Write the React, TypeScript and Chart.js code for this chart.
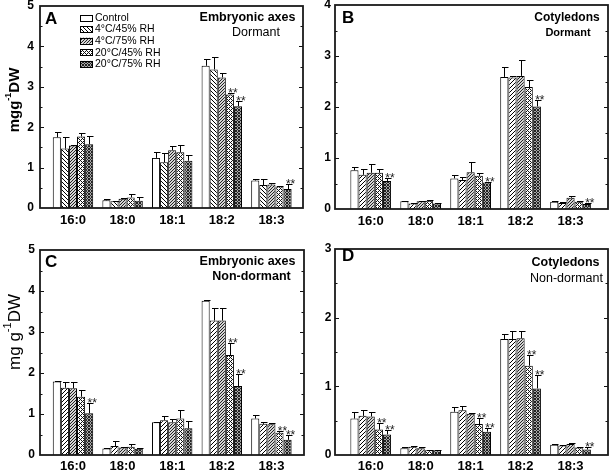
import React, { useEffect, useRef } from 'react';
import { Chart, registerables } from 'chart.js';

Chart.register(...registerables);

// ---------- data ----------
const CATEGORIES = ['16:0', '18:0', '18:1', '18:2', '18:3'];
const SERIES = ['Control', '4°C/45% RH', '4°C/75% RH', '20°C/45% RH', '20°C/75% RH'];

// Panel A: Embryonic axes, dormant (rows = series, cols = categories)
const valuesA = [
  [1.75, 0.19, 1.24, 3.52, 0.68],
  [1.47, 0.17, 1.13, 3.43, 0.57],
  [1.55, 0.23, 1.43, 3.23, 0.58],
  [1.77, 0.26, 1.38, 2.81, 0.53],
  [1.58, 0.18, 1.17, 2.52, 0.47],
];
const errorsA = [
  [0.13, 0.03, 0.14, 0.17, 0.05],
  [0.29, 0.01, 0.23, 0.30, 0.15],
  [0.01, 0.01, 0.10, 0.11, 0.04],
  [0.09, 0.09, 0.19, 0.04, 0.02],
  [0.19, 0.09, 0.15, 0.12, 0.12],
];
const starsA = [[3, 3], [4, 3], [4, 4]];

// Panel B: Cotyledons, dormant
const valuesB = [
  [0.76, 0.15, 0.60, 2.59, 0.14],
  [0.67, 0.11, 0.57, 2.58, 0.12],
  [0.71, 0.15, 0.72, 2.61, 0.22],
  [0.71, 0.16, 0.65, 2.39, 0.14],
  [0.55, 0.11, 0.52, 2.01, 0.10],
];
const errorsB = [
  [0.06, 0.01, 0.06, 0.20, 0.01],
  [0.11, 0.01, 0.05, 0.03, 0.01],
  [0.17, 0.01, 0.20, 0.31, 0.04],
  [0.07, 0.01, 0.05, 0.13, 0.01],
  [0.05, 0.01, 0.01, 0.13, 0.01],
];
const starsB = [[4, 0], [4, 2], [4, 3], [4, 4]];

// Panel C: Embryonic axes, non-dormant
const valuesC = [
  [1.79, 0.16, 0.80, 3.76, 0.89],
  [1.64, 0.22, 0.85, 3.28, 0.76],
  [1.63, 0.18, 0.80, 3.28, 0.75],
  [1.42, 0.20, 0.89, 2.44, 0.54],
  [1.02, 0.15, 0.65, 1.68, 0.37],
];
const errorsC = [
  [0.02, 0.01, 0.01, 0.02, 0.09],
  [0.13, 0.11, 0.10, 0.31, 0.04],
  [0.14, 0.02, 0.09, 0.31, 0.02],
  [0.17, 0.07, 0.21, 0.30, 0.05],
  [0.24, 0.02, 0.19, 0.30, 0.12],
];
const starsC = [[4, 0], [3, 3], [4, 3], [3, 4], [4, 4]];

// Panel D: Cotyledons, non-dormant
const valuesD = [
  [0.53, 0.10, 0.63, 1.69, 0.15],
  [0.57, 0.12, 0.65, 1.69, 0.14],
  [0.56, 0.10, 0.60, 1.70, 0.16],
  [0.37, 0.07, 0.45, 1.30, 0.11],
  [0.30, 0.07, 0.34, 0.97, 0.08],
];
const errorsD = [
  [0.10, 0.01, 0.07, 0.07, 0.01],
  [0.09, 0.01, 0.07, 0.11, 0.01],
  [0.06, 0.01, 0.01, 0.10, 0.01],
  [0.09, 0.01, 0.09, 0.15, 0.01],
  [0.07, 0.01, 0.06, 0.20, 0.03],
];
const starsD = [[3, 0], [4, 0], [3, 2], [4, 2], [3, 3], [4, 3], [4, 4]];

const Y_MAX_A = 5;
const Y_MAX_B = 4;
const Y_MAX_C = 5;
const Y_MAX_D = 3;

// ---------- layout / style ----------
const FONT = '"Liberation Sans", Arial, Helvetica, sans-serif';

type TextItem = { t: string; x: number; y: number; size: number; bold: boolean; align: CanvasTextAlign };

type Panel = {
  ox: number; oy: number; w: number; h: number;
  left: number; right: number; top: number; bottom: number;
  xMin: number; xMax: number; yMax: number;
  values: number[][]; errors: number[][]; stars: number[][];
  backHatch: boolean; legend: boolean;
  yTickPad: number; xTickPad: number;
  yTitle: { main1: string; main2: string; bold: boolean; size: number; x: number; y: number } | null;
  texts: TextItem[];
};

const PANELS: Panel[] = [
  {
    ox: 0, oy: 0, w: 305, h: 235, left: 40, right: 303, top: 6, bottom: 208,
    xMin: -0.665, xMax: 4.637, yMax: Y_MAX_A,
    values: valuesA, errors: errorsA, stars: starsA, backHatch: true, legend: true,
    yTickPad: 6, xTickPad: 5,
    yTitle: { main1: 'mgg', main2: 'DW', bold: true, size: 15, x: 15, y: 100 },
    texts: [
      { t: 'A', x: 45, y: 19, size: 17, bold: true, align: 'left' },
      { t: 'Embryonic axes', x: 247.5, y: 18, size: 12.5, bold: true, align: 'center' },
      { t: 'Dormant', x: 256, y: 33, size: 12.5, bold: false, align: 'center' },
    ],
  },
  {
    ox: 305, oy: 0, w: 304, h: 235, left: 30, right: 303, top: 5, bottom: 209,
    xMin: -0.715, xMax: 4.75, yMax: Y_MAX_B,
    values: valuesB, errors: errorsB, stars: starsB, backHatch: false, legend: false,
    yTickPad: 4, xTickPad: 5,
    yTitle: null,
    texts: [
      { t: 'B', x: 37, y: 18.5, size: 17, bold: true, align: 'left' },
      { t: 'Cotyledons', x: 262, y: 18, size: 12, bold: true, align: 'center' },
      { t: 'Dormant', x: 263, y: 33, size: 11, bold: true, align: 'center' },
    ],
  },
  {
    ox: 0, oy: 235, w: 305, h: 236, left: 40, right: 304, top: 15, bottom: 220,
    xMin: -0.665, xMax: 4.657, yMax: Y_MAX_C,
    values: valuesC, errors: errorsC, stars: starsC, backHatch: false, legend: false,
    yTickPad: 5, xTickPad: 4,
    yTitle: { main1: 'mg g', main2: 'DW', bold: false, size: 17, x: 15, y: 97 },
    texts: [
      { t: 'C', x: 45, y: 27, size: 17, bold: true, align: 'left' },
      { t: 'Embryonic axes', x: 247.5, y: 26.5, size: 12.5, bold: true, align: 'center' },
      { t: 'Non-dormant', x: 251.5, y: 41.5, size: 12.5, bold: true, align: 'center' },
    ],
  },
  {
    ox: 305, oy: 235, w: 304, h: 236, left: 30, right: 303, top: 14, bottom: 220,
    xMin: -0.715, xMax: 4.75, yMax: Y_MAX_D,
    values: valuesD, errors: errorsD, stars: starsD, backHatch: false, legend: false,
    yTickPad: 3.5, xTickPad: 4,
    yTitle: null,
    texts: [
      { t: 'D', x: 37, y: 21.5, size: 17, bold: true, align: 'left' },
      { t: 'Cotyledons', x: 260.5, y: 28, size: 12.5, bold: true, align: 'center' },
      { t: 'Non-dormant', x: 261.5, y: 43.5, size: 12.5, bold: false, align: 'center' },
    ],
  },
];

function makePattern(size: number, bg: string, fg: string, on: (x: number, y: number) => boolean): CanvasPattern | string {
  const c = document.createElement('canvas');
  c.width = size; c.height = size;
  const g = c.getContext('2d');
  if (!g) return bg;
  g.fillStyle = bg; g.fillRect(0, 0, size, size);
  g.fillStyle = fg;
  for (let y = 0; y < size; y++) for (let x = 0; x < size; x++) if (on(x, y)) g.fillRect(x, y, 1, 1);
  const p = g.createPattern(c, 'repeat');
  return p || bg;
}

function makeFills(backHatch: boolean) {
  const hatch = backHatch
    ? makePattern(4, '#ffffff', '#000000', (x, y) => (x - y + 8) % 4 === 0)
    : makePattern(4, '#ffffff', '#000000', (x, y) => (x + y) % 4 === 0);
  const dense = makePattern(3, '#d4d4d4', '#222222', (x, y) => (x + y) % 3 === 0);
  const cross = makePattern(4, '#ffffff', '#111111', (x, y) => (x + y) % 4 === 0 || (x - y + 8) % 4 === 0);
  const dark = makePattern(3, '#a8a8a8', '#222222', (x, y) => (x + y) % 3 === 0 || (x - y + 6) % 3 === 0);
  return ['#ffffff', hatch, dense, cross, dark];
}

function font(size: number, bold: boolean) {
  return `${bold ? 'bold ' : ''}${size}px ${FONT}`;
}

function buildChart(canvas: HTMLCanvasElement, p: Panel) {
  const fills = makeFills(p.backHatch);
  const legendFills = fills;

  const decor = {
    id: 'decor' + p.ox + p.oy,
    afterDatasetsDraw(chart: any) {
      const ctx = chart.ctx as CanvasRenderingContext2D;
      const ys = chart.scales.y;
      ctx.save();
      ctx.strokeStyle = '#000';
      ctx.lineWidth = 1;
      const barX: number[][] = [];
      chart.data.datasets.forEach((_: any, s: number) => {
        const meta = chart.getDatasetMeta(s);
        barX[s] = [];
        meta.data.forEach((bar: any, i: number) => {
          barX[s][i] = bar.x;
          const v = p.values[s][i];
          const e = p.errors[s][i];
          if (!(e > 0)) return;
          const yTop = Math.round(ys.getPixelForValue(v + e)) + 0.5;
          const yBar = ys.getPixelForValue(v);
          const x = Math.round(bar.x) + 0.5;
          ctx.beginPath();
          ctx.moveTo(x, yBar);
          ctx.lineTo(x, yTop);
          ctx.moveTo(x - 2.5, yTop);
          ctx.lineTo(x + 4, yTop);
          ctx.stroke();
        });
      });
      // significance stars
      ctx.fillStyle = '#222';
      ctx.font = font(12, false);
      ctx.textAlign = 'center';
      ctx.textBaseline = 'alphabetic';
      p.stars.forEach(([s, i]) => {
        const v = p.values[s][i] + p.errors[s][i];
        const y = ys.getPixelForValue(v);
        ctx.fillText('**', barX[s][i] + 3, y + 4);
      });
      ctx.restore();
    },
    afterDraw(chart: any) {
      const ctx = chart.ctx as CanvasRenderingContext2D;
      const a = chart.chartArea;
      const ys = chart.scales.y;
      ctx.save();
      // minor/major ticks (inward) on left and right
      ctx.strokeStyle = '#111';
      ctx.lineWidth = 1;
      for (let v = 0.5; v < p.yMax; v += 0.5) {
        const y = Math.round(ys.getPixelForValue(v)) + 0.5;
        const len = Math.abs(v - Math.round(v)) < 1e-6 ? 4 : 2.5;
        ctx.beginPath();
        ctx.moveTo(a.left, y); ctx.lineTo(a.left + len, y);
        ctx.moveTo(a.right, y); ctx.lineTo(a.right - len, y);
        ctx.stroke();
      }
      // frame
      ctx.strokeStyle = '#1a1a1a';
      ctx.lineWidth = 1.8;
      ctx.strokeRect(a.left, a.top, a.right - a.left, a.bottom - a.top);

      // panel texts
      ctx.fillStyle = '#000';
      ctx.textBaseline = 'middle';
      p.texts.forEach((t) => {
        ctx.font = font(t.size, t.bold);
        ctx.textAlign = t.align;
        ctx.fillText(t.t, t.x, t.y);
      });

      // y-axis title with superscript
      if (p.yTitle) {
        const yt = p.yTitle;
        const fMain = font(yt.size, yt.bold);
        const fSup = font(Math.round(yt.size * 0.62), yt.bold);
        ctx.font = fMain;
        const w1 = ctx.measureText(yt.main1).width;
        const w3 = ctx.measureText(yt.main2).width;
        ctx.font = fSup;
        const w2 = ctx.measureText('-1').width;
        const total = w1 + w2 + w3;
        ctx.translate(yt.x, yt.y);
        ctx.rotate(-Math.PI / 2);
        ctx.textAlign = 'left';
        ctx.textBaseline = 'middle';
        let cx = -total / 2;
        ctx.font = fMain;
        ctx.fillText(yt.main1, cx, 0);
        cx += w1;
        ctx.font = fSup;
        ctx.fillText('-1', cx, -yt.size * 0.42);
        cx += w2;
        ctx.font = fMain;
        ctx.fillText(yt.main2, cx, 0);
        ctx.setTransform(1, 0, 0, 1, 0, 0);
      }

      // legend
      if (p.legend) {
        ctx.textAlign = 'left';
        ctx.textBaseline = 'middle';
        ctx.font = font(10.5, false);
        SERIES.forEach((name, s) => {
          const cy = 17.5 + s * 11.6;
          ctx.fillStyle = legendFills[s] as any;
          ctx.fillRect(80, cy - 3, 13, 6);
          ctx.strokeStyle = '#000';
          ctx.lineWidth = 1;
          ctx.strokeRect(80.5, Math.round(cy - 3) + 0.5, 12, 6);
          ctx.fillStyle = '#000';
          ctx.fillText(name, 95, cy + 0.5);
        });
      }
      ctx.restore();
    },
  };

  return new Chart(canvas, {
    type: 'bar',
    data: {
      datasets: SERIES.map((name, s) => ({
        label: name,
        data: p.values[s].map((v, i) => ({ x: i, y: v })),
        backgroundColor: fills[s] as any,
        borderColor: '#000',
        borderWidth: 1,
        categoryPercentage: 0.815,
        barPercentage: 1,
      })),
    },
    options: {
      animation: false,
      responsive: false,
      maintainAspectRatio: false,
      events: [],
      layout: { padding: { top: p.top, right: p.w - p.right, left: 0, bottom: 0 } },
      plugins: { legend: { display: false }, tooltip: { enabled: false }, title: { display: false } },
      scales: {
        x: {
          type: 'linear',
          offset: false,
          bounds: 'ticks',
          min: p.xMin,
          max: p.xMax,
          grid: { display: false, drawTicks: false, offset: false },
          border: { display: false },
          afterBuildTicks: (s: any) => { s.ticks = CATEGORIES.map((_, i) => ({ value: i })); },
          afterFit: (s: any) => { s.height = p.h - p.bottom; s.paddingLeft = 0; s.paddingRight = 0; },
          ticks: {
            autoSkip: false,
            maxRotation: 0,
            padding: p.xTickPad,
            color: '#000',
            font: { family: FONT, size: 13, weight: 'bold' },
            callback: (v: any) => CATEGORIES[Math.round(Number(v))] ?? '',
          },
        },
        y: {
          min: 0,
          max: p.yMax,
          grid: { display: false, drawTicks: false },
          border: { display: false },
          afterBuildTicks: (s: any) => {
            const t = [];
            for (let v = 0; v <= p.yMax; v++) t.push({ value: v });
            s.ticks = t;
          },
          afterFit: (s: any) => { s.width = p.left; s.paddingTop = 0; s.paddingBottom = 0; },
          ticks: {
            padding: p.yTickPad,
            color: '#000',
            font: { family: FONT, size: 12, weight: 'bold' },
            callback: (v: any) => String(v),
          },
        },
      },
    } as any,
    plugins: [decor],
  });
}

export default function App() {
  const r0 = useRef<HTMLCanvasElement>(null);
  const r1 = useRef<HTMLCanvasElement>(null);
  const r2 = useRef<HTMLCanvasElement>(null);
  const r3 = useRef<HTMLCanvasElement>(null);
  const refs = [r0, r1, r2, r3];

  useEffect(() => {
    const charts = PANELS.map((p, i) => buildChart(refs[i].current as HTMLCanvasElement, p));
    return () => charts.forEach((c) => c.destroy());
  }, []);

  return (
    <div style={{ position: 'absolute', left: 0, top: 0, width: 609, height: 471, background: '#fff', overflow: 'hidden' }}>
      {PANELS.map((p, i) => (
        <canvas
          key={i}
          ref={refs[i]}
          width={p.w}
          height={p.h}
          style={{ position: 'absolute', left: p.ox, top: p.oy, width: p.w, height: p.h, display: 'block' }}
        />
      ))}
    </div>
  );
}
